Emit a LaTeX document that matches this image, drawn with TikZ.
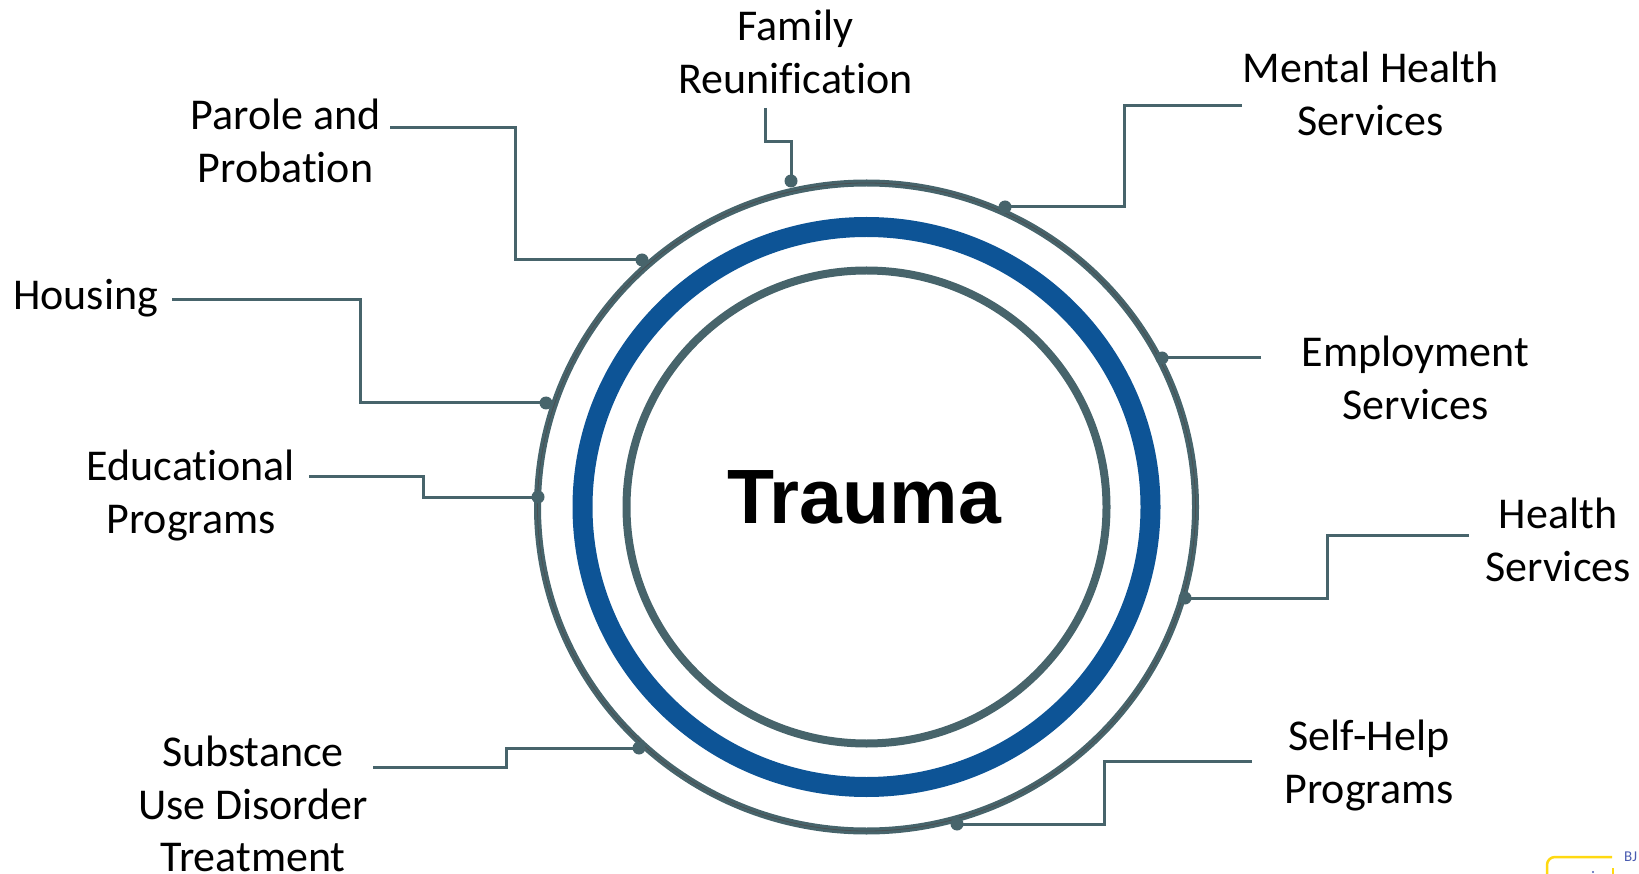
\documentclass[tikz,border=0pt]{standalone}
\usepackage{fontspec}
\setmainfont{Carlito}[Ligatures=NoCommon]
\newfontfamily\headfont{Liberation Sans}
\definecolor{ringgrey}{HTML}{47646B}
\definecolor{ringdark}{HTML}{4A4F52}
\definecolor{ringblue}{HTML}{0D5496}
\definecolor{logoyellow}{HTML}{FFD911}
\definecolor{logoblue}{HTML}{4A5BB0}
\tikzset{
  service/.style={align=center,inner sep=0pt,text=black,font=\fontsize{44}{52.8}\selectfont},
  link/.style={draw=ringgrey,line width=3pt,line join=miter},
  linkdot/.style={circle,fill=ringgrey,inner sep=0pt,minimum size=13pt},
}

\begin{document}
\begin{tikzpicture}[x=1pt,y=-1pt]
        \useasboundingbox (0,0) rectangle (1639,874);

        \coordinate (C) at (866.5,507);
        \draw[ringgrey,line width=7pt] (C) ellipse [x radius=329pt,y radius=324pt];
        \draw[ringdark,line width=.8pt] (C) ellipse [x radius=329pt,y radius=324pt];
        \draw[ringblue,line width=20pt] (C) ellipse [x radius=284pt,y radius=280pt];
        \draw[ringgrey,line width=8pt] (C) ellipse [x radius=240pt,y radius=236.5pt];
        \node[inner sep=0pt,font=\headfont\bfseries\fontsize{77}{77}\selectfont] (trauma) at (864,497) {Trauma};

        \path
        (795.5,52) node[service] (family) {Family\\Reunification}
        (1370.5,94) node[service] (mental) {Mental Health\\Services}
        (285.5,141) node[service] (parole) {Parole and\\Probation}
        (85.7,298.5) node[service] (housing) {Housing}
        (1415.5,378) node[service] (employ) {Employment\\Services}
        (191,495.5) node[service] (educ) {Educational\\Programs}
        (1558,539.5) node[service] (health) {Health\\Services}
        (1369,765.5) node[service] (selfhelp) {Self-Help\\Programs}
        (253,872) node[service,text depth=0pt,anchor=south] (subst) {Substance\\Use Disorder\\Treatment}
        ;

        \path
        (791,181) node[linkdot] (familydot) {}
        (1005,207) node[linkdot] (mentaldot) {}
        (642,260) node[linkdot] (paroledot) {}
        (546,403) node[linkdot] (housingdot) {}
        (1162,358) node[linkdot] (employdot) {}
        (538,497) node[linkdot] (educdot) {}
        (1185,598) node[linkdot] (healthdot) {}
        (957,824) node[linkdot] (selfhelpdot) {}
        (639,748) node[linkdot] (substdot) {}
        ;

        \path
        (765,108) coordinate (familyend)
        (1242,106) coordinate (mentalend)
        (390,128) coordinate (paroleend)
        (172,300) coordinate (housingend)
        (1261,358) coordinate (employend)
        (309,476) coordinate (educend)
        (1469,535) coordinate (healthend)
        (1252,761) coordinate (selfhelpend)
        (373,767) coordinate (substend)
        ;

        \draw[link] (familyend) -- ++(0,34) -| (familydot.center);
        \draw[link] (mentalend) -- ++(-118,0) |- (mentaldot.center);
        \draw[link] (paroleend) -- ++(125,0) |- (paroledot.center);
        \draw[link] (housingend) -- ++(188,0) |- (housingdot.center);
        \draw[link] (employend) -- (employdot.center);
        \draw[link] (educend) -- ++(114,0) |- (educdot.center);
        \draw[link] (healthend) -- ++(-142,0) |- (healthdot.center);
        \draw[link] (selfhelpend) -- ++(-148,0) |- (selfhelpdot.center);
        \draw[link] (substend) -- ++(133,0) |- (substdot.center);

        % bit of the logo, cut off by the page
        \draw[logoyellow,line width=2.5pt,rounded corners=8pt] (1547,874) -- (1547,857) -- (1612,857);
        \draw[logoyellow,line width=2.5pt] (1613,868) -- (1613,874);
        \fill[logoblue] (1593,872) circle (1.2pt);
        \node[inner sep=0pt,anchor=west,text=logoblue,font=\fontsize{15}{15}\selectfont] (logotext) at (1624,857) {BJ};
      \end{tikzpicture}
\end{document}
